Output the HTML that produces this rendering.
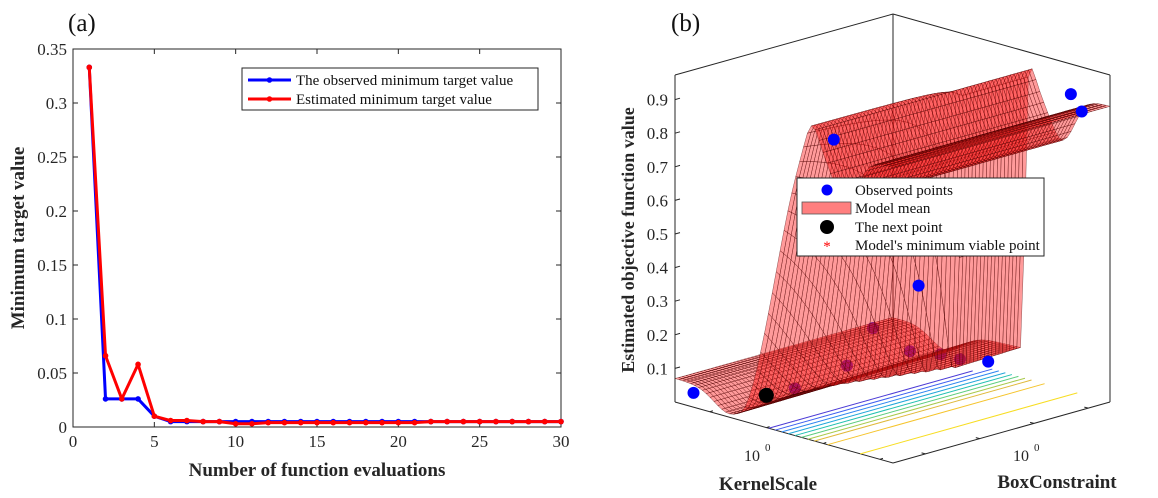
<!DOCTYPE html>
<html><head><meta charset="utf-8"><style>
body{margin:0;background:#fff;}
svg{display:block;font-family:"Liberation Serif",serif;}
</style></head><body>
<svg id="fig" width="1158" height="498" viewBox="0 0 1158 498">
<g id="pa"></g>
<g id="pb"></g>
</svg>
<script>
// ---------- Panel (a) data ----------
const evals = [1,2,3,4,5,6,7,8,9,10,11,12,13,14,15,16,17,18,19,20,21,22,23,24,25,26,27,28,29,30];
const observedMin = [0.333,0.026,0.026,0.026,0.010,0.005,0.005,0.005,0.005,0.005,0.005,0.005,0.005,0.005,0.005,0.005,0.005,0.005,0.005,0.005,0.005,0.005,0.005,0.005,0.005,0.005,0.005,0.005,0.005,0.005];
const estimatedMin = [0.333,0.066,0.026,0.058,0.010,0.006,0.006,0.005,0.005,0.003,0.003,0.004,0.004,0.004,0.004,0.004,0.004,0.004,0.004,0.004,0.004,0.005,0.005,0.005,0.005,0.005,0.005,0.005,0.005,0.005];
const xTicksA = [0,5,10,15,20,25,30];
const yTicksA = [0,0.05,0.1,0.15,0.2,0.25,0.3,0.35];
const yTickLabelsA = ["0","0.05","0.1","0.15","0.2","0.25","0.3","0.35"];

// ---------- Panel (b) data ----------
const obsA = [0.455,0.62,0.51,0.44,0.66,0.69,0.05,0.39,0.57,0.72,0.92,0.95];
const obsB = [0.455,0.46,0.28,0.11,0.56,0.62,0.035,0.34,0.55,0.72,0.90,0.92];
const obsZ = [0.22,0.18,0.15,0.10,0.16,0.14,0.03,0.79,0.35,0.12,0.92,0.87];
const obsHidden = [1,1,1,1,1,1,0,0,0,0,0,0];
const nextPoint = [0.21,0.21,0.02];
const zTicksB = [0.1,0.2,0.3,0.4,0.5,0.6,0.7,0.8,0.9];
const contourLevels = [0.43,0.46,0.49,0.52,0.55,0.58,0.61,0.64,0.70,0.85];
const contourColors = ["#4b3bd6","#3c5ff0","#2c86f0","#1fa7d9","#20c0b0","#5ccd7c","#a9c94a","#e0b93a","#f5c42c","#f7dd22"];

const NS='http://www.w3.org/2000/svg';
function mk(parent,tag,attrs,text){const e=document.createElementNS(NS,tag);for(const k in attrs)e.setAttribute(k,attrs[k]);if(text!==undefined)e.textContent=text;parent.appendChild(e);return e;}

// ===== Panel A =====
const pa=document.getElementById('pa');
const AX={l:73,r:561,t:49,b:427};
const xs=v=>AX.l+(v-0)/(30-0)*(AX.r-AX.l);
const ys=v=>AX.b-(v-0)/(0.35-0)*(AX.b-AX.t);
let e;
e=mk(pa,'rect',{x:AX.l,y:AX.t,width:AX.r-AX.l,height:AX.b-AX.t,fill:'#fff',stroke:'#262626','stroke-width':1});


xTicksA.forEach(t=>{
  const x=xs(t);
  e=mk(pa,'line',{x1:x,y1:AX.b,x2:x,y2:AX.b-5,stroke:'#262626'});
  
  
  mk(pa,'line',{x1:x,y1:AX.t,x2:x,y2:AX.t+5,stroke:'#262626'});
  e=mk(pa,'text',{x:x,y:AX.b+20,'text-anchor':'middle','font-size':17,fill:'#262626'},String(t));
  
  
});
yTicksA.forEach((t,i)=>{
  const y=ys(t);
  e=mk(pa,'line',{x1:AX.l,y1:y,x2:AX.l+5,y2:y,stroke:'#262626'});
  
  
  mk(pa,'line',{x1:AX.r,y1:y,x2:AX.r-5,y2:y,stroke:'#262626'});
  e=mk(pa,'text',{x:AX.l-6,y:y+6,'text-anchor':'end','font-size':17,fill:'#262626'},yTickLabelsA[i]);
  
  
});
function series(vals,color,name){
  const pts=vals.map((v,i)=>xs(evals[i])+','+ys(v)).join(' ');
  const g=mk(pa,'g',{});
  
  
  mk(g,'polyline',{points:pts,fill:'none',stroke:color,'stroke-width':3,'stroke-linejoin':'round'});
  vals.forEach((v,i)=>{
    const c=mk(g,'circle',{cx:xs(evals[i]),cy:ys(v),r:2.8,fill:color});
    
    
  });
}
series(observedMin,'#0000ff','observed-min-line');
series(estimatedMin,'#ff0000','estimated-min-line');
const lg=mk(pa,'g',{});


mk(lg,'rect',{x:242,y:68,width:296,height:42,fill:'#fff',stroke:'#262626','stroke-width':1});
[[ '#0000ff','The observed minimum target value',80],['#ff0000','Estimated minimum target value',99]].forEach(r=>{
  const g=mk(lg,'g',{});
  
  
  mk(g,'line',{x1:248,y1:r[2],x2:291,y2:r[2],stroke:r[0],'stroke-width':3});
  mk(g,'circle',{cx:269.5,cy:r[2],r:2.8,fill:r[0]});
  mk(g,'text',{x:296,y:r[2]+5,'font-size':15,fill:'#111'},r[1]);
});
e=mk(pa,'text',{x:317,y:476,'text-anchor':'middle','font-size':19,'font-weight':'bold',fill:'#262626'},'Number of function evaluations');


e=mk(pa,'text',{x:0,y:0,transform:'translate(24,238) rotate(-90)','text-anchor':'middle','font-size':19,'font-weight':'bold',fill:'#262626'},'Minimum target value');


e=mk(pa,'text',{x:68,y:31,'font-size':25,fill:'#111'},'(a)');



// ===== Panel B =====
const pb=document.getElementById('pb');
const L=[675,402],FA=[218,61],BB=[217,-61],ZS=336;
function proj(a,b,z){return [L[0]+a*FA[0]+b*BB[0], L[1]+a*FA[1]+b*BB[1]-z*ZS];}
function surfZ(a,b){
  const a1=0.63;
  const a0=Math.min(0.59,0.3+0.42*b);
  let t=(a-a0)/(a1-a0); t=Math.max(0,Math.min(1,t));
  const sm=t*t*(3-2*t);
  const s=a-a1;
  const high=0.88+0.06*Math.exp(-Math.pow(s/0.04,2))-0.14*Math.exp(-Math.pow((s-0.15)/0.08,2));
  const low=0.07-0.06*Math.exp(-Math.pow((a-0.25)/0.1,2))+0.03*b*a;
  return low+(high-low)*sm;
}
const bx=mk(pb,'g',{stroke:'#262626','stroke-width':1});


mk(bx,'line',{x1:675,y1:75,x2:675,y2:402});
mk(bx,'line',{x1:893,y1:14,x2:893,y2:341});
mk(bx,'line',{x1:1110,y1:75,x2:1110,y2:402});
mk(bx,'line',{x1:675,y1:75,x2:893,y2:14});
mk(bx,'line',{x1:893,y1:14,x2:1110,y2:75});
mk(bx,'line',{x1:675,y1:402,x2:893,y2:463});
mk(bx,'line',{x1:893,y1:463,x2:1110,y2:402});
zTicksB.forEach(t=>{
  const p=proj(0,0,t);
  e=mk(pb,'line',{x1:p[0],y1:p[1],x2:p[0]+5,y2:p[1]-1.4,stroke:'#262626'});
  
  
  e=mk(pb,'text',{x:p[0]-7,y:p[1]+6,'text-anchor':'end','font-size':17,fill:'#262626'},t.toFixed(1));
  
  
});
[0.16,0.42,0.68,0.94].forEach(a=>{const p=proj(a,0,0);mk(pb,'line',{x1:p[0],y1:p[1],x2:p[0]+3,y2:p[1]-1,stroke:'#262626'});});
[0.15,0.4,0.65,0.9].forEach(b=>{const p=proj(1,b,0);mk(pb,'line',{x1:p[0],y1:p[1],x2:p[0]-4,y2:p[1]-1,stroke:'#262626'});});
contourLevels.forEach((a,i)=>{
  const b0=Math.max(0,Math.min(1,(a-0.42)/0.25));
  const pl=[proj(a,0,0),proj(a,Math.min(1,b0+0.9),0)];
  e=mk(pb,'line',{x1:pl[0][0],y1:pl[0][1],x2:pl[1][0],y2:pl[1][1],stroke:contourColors[i],'stroke-width':1});
  
  
});
function dot(a,b,z,color,r,name){
  const p=proj(a,b,z);
  const c=mk(pb,'circle',{cx:p[0],cy:p[1],r:r,fill:color});
  
  
}
obsA.forEach((a,i)=>{ if(obsHidden[i]) dot(a,obsB[i],obsZ[i],'#0000ff',6,'observed-point'); });
const NA=56,NB=60;const quads=[];
for(let i=0;i<NA;i++)for(let j=0;j<NB;j++){
  const a0=i/NA,a1=(i+1)/NA,b0=j/NB,b1=(j+1)/NB;
  quads.push({d:(b0-a0),pts:[proj(a0,b0,surfZ(a0,b0)),proj(a1,b0,surfZ(a1,b0)),proj(a1,b1,surfZ(a1,b1)),proj(a0,b1,surfZ(a0,b1))]});
}
quads.sort((p,q)=>q.d-p.d);
const sg=mk(pb,'g',{fill:'rgba(255,30,30,0.45)',stroke:'rgba(70,0,0,0.6)','stroke-width':0.5});


quads.forEach(qd=>{mk(sg,'polygon',{points:qd.pts.map(p=>p[0].toFixed(1)+','+p[1].toFixed(1)).join(' ')});});
obsA.forEach((a,i)=>{ if(!obsHidden[i]) dot(a,obsB[i],obsZ[i],'#0000ff',6,'observed-point'); });
dot(nextPoint[0],nextPoint[1],nextPoint[2],'#000',7.5,'next-point');
const lb=mk(pb,'g',{});


mk(lb,'rect',{x:797,y:178,width:247,height:78,fill:'#fff',stroke:'#262626','stroke-width':1});
const rows=[['Observed points',190],['Model mean',208],['The next point',227],["Model's minimum viable point",245]];
rows.forEach((r,i)=>{
  const g=mk(lb,'g',{});
  
  
  if(i===0) mk(g,'circle',{cx:827,cy:r[1],r:5.5,fill:'#0000ff'});
  if(i===1) mk(g,'rect',{x:802,y:r[1]-6,width:49,height:12,fill:'#ff7f7f',stroke:'#555','stroke-width':0.8});
  if(i===2) mk(g,'circle',{cx:827,cy:r[1],r:7,fill:'#000'});
  if(i===3) mk(g,'text',{x:827,y:r[1]+6,'text-anchor':'middle','font-size':15,fill:'#ff0000'},'*');
  mk(g,'text',{x:855,y:r[1]+5,'font-size':15,fill:'#111'},r[0]);
});
e=mk(pb,'text',{x:752,y:461,'text-anchor':'middle','font-size':16,fill:'#262626'},'10');


mk(pb,'text',{x:765,y:451,'font-size':11,fill:'#262626'},'0');
e=mk(pb,'text',{x:1021,y:461,'text-anchor':'middle','font-size':16,fill:'#262626'},'10');


mk(pb,'text',{x:1034,y:451,'font-size':11,fill:'#262626'},'0');
e=mk(pb,'text',{x:768,y:490,'text-anchor':'middle','font-size':19,'font-weight':'bold',fill:'#262626'},'KernelScale');


e=mk(pb,'text',{x:1057,y:488,'text-anchor':'middle','font-size':19,'font-weight':'bold',fill:'#262626'},'BoxConstraint');


e=mk(pb,'text',{x:0,y:0,transform:'translate(634,240) rotate(-90)','text-anchor':'middle','font-size':18,'font-weight':'bold',fill:'#262626'},'Estimated objective function value');


e=mk(pb,'text',{x:671,y:31,'font-size':25,fill:'#111'},'(b)');


</script>
</body></html>
